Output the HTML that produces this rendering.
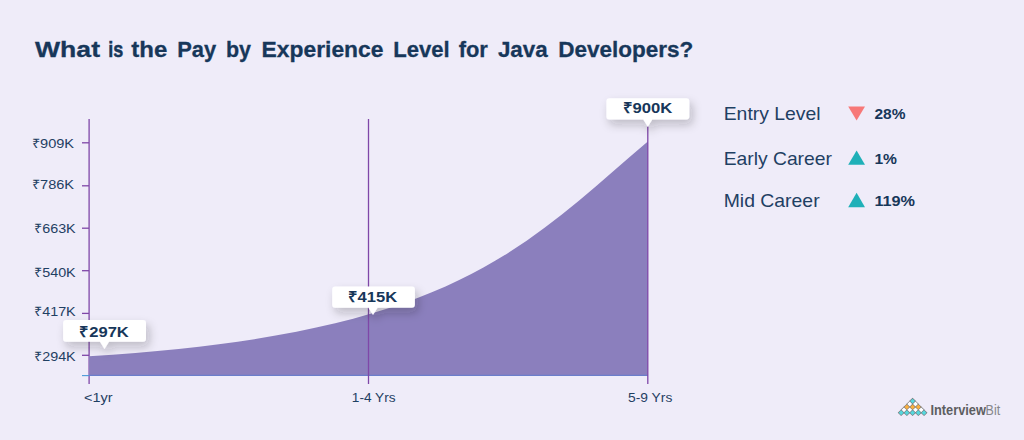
<!DOCTYPE html>
<html lang="en">
<head>
<meta charset="utf-8">
<title>What is the Pay by Experience Level for Java Developers?</title>
<style>
html,body{margin:0;padding:0;background:#efecf9;}
body{width:1024px;height:440px;overflow:hidden;position:relative;font-family:"Liberation Sans",sans-serif;}
svg{position:absolute;left:0;top:0;display:block;}
text{font-family:"Liberation Sans",sans-serif;}
.title{font-weight:bold;font-size:22.5px;fill:#17375a;stroke:#17375a;stroke-width:0.3px;}
.ylab{font-size:12.8px;fill:#1f4063;}
.xlab{font-size:13px;fill:#1f4063;}
.tip{font-weight:bold;font-size:15px;fill:#17375a;}
.leg{font-size:18.5px;fill:#1f4063;}
.pct{font-weight:bold;font-size:14.5px;fill:#17375a;}
</style>
</head>
<body>
<svg width="1024" height="440" viewBox="0 0 1024 440">
<defs>
<filter id="sh" x="-30%" y="-60%" width="160%" height="260%">
<feDropShadow dx="3" dy="5" stdDeviation="5" flood-color="#1a1a2a" flood-opacity="0.24"/>
</filter>
</defs>
<rect x="0" y="0" width="1024" height="440" fill="#efecf9"/>

<!-- title -->
<g class="title">
<text x="35" y="56.6" textLength="65" lengthAdjust="spacingAndGlyphs">What</text>
<text x="108.2" y="56.6" textLength="15" lengthAdjust="spacingAndGlyphs" stroke="#17375a" stroke-width="0.5">is</text>
<text x="131.3" y="56.6" textLength="36" lengthAdjust="spacingAndGlyphs">the</text>
<text x="177.2" y="56.6" textLength="39" lengthAdjust="spacingAndGlyphs">Pay</text>
<text x="226" y="56.6" textLength="25" lengthAdjust="spacingAndGlyphs">by</text>
<text x="261.5" y="56.6" textLength="122" lengthAdjust="spacingAndGlyphs">Experience</text>
<text x="393.2" y="56.6" textLength="56.5" lengthAdjust="spacingAndGlyphs">Level</text>
<text x="458.7" y="56.6" textLength="29.2" lengthAdjust="spacingAndGlyphs">for</text>
<text x="497.9" y="56.6" textLength="49.8" lengthAdjust="spacingAndGlyphs">Java</text>
<text x="558.3" y="56.6" textLength="135" lengthAdjust="spacingAndGlyphs">Developers?</text>
</g>

<!-- y axis (under area) -->
<line x1="89.1" y1="119" x2="89.1" y2="384" stroke="#7f47a8" stroke-width="1.3"/>
<!-- area -->
<path d="M89,356.2 C450.7,334.5 520.5,250.2 647.8,141.5 L647.8,375.5 L89,375.5 Z" fill="#8b7fbd"/>
<!-- x axis line (blue) -->
<line x1="82" y1="375.6" x2="89" y2="375.6" stroke="#4a9ad8" stroke-width="1.1"/>
<line x1="89" y1="375.4" x2="648" y2="375.4" stroke="#6b7ecb" stroke-width="1.1"/>
<!-- vertical lines -->
<line x1="368.5" y1="119" x2="368.5" y2="384" stroke="#7f47a8" stroke-width="1.3"/>
<line x1="647.8" y1="126.5" x2="647.8" y2="384" stroke="#7f47a8" stroke-width="1.3"/>
<!-- ticks -->
<g stroke="#7f47a8" stroke-width="1.3">
<line x1="82" y1="142.8" x2="89" y2="142.8"/>
<line x1="82" y1="185.8" x2="89" y2="185.8"/>
<line x1="82" y1="228.2" x2="89" y2="228.2"/>
<line x1="82" y1="270.7" x2="89" y2="270.7"/>
<line x1="82" y1="313.4" x2="89" y2="313.4"/>
<line x1="82" y1="355.3" x2="89" y2="355.3"/>
</g>

<!-- y labels -->
<g class="ylab">
<text x="32.1" y="148.3" textLength="42" lengthAdjust="spacingAndGlyphs">₹909K</text>
<text x="32.1" y="188.7" textLength="42" lengthAdjust="spacingAndGlyphs">₹786K</text>
<text x="34.3" y="232.9" textLength="41.4" lengthAdjust="spacingAndGlyphs">₹663K</text>
<text x="34.3" y="277" textLength="41.4" lengthAdjust="spacingAndGlyphs">₹540K</text>
<text x="34.3" y="316.3" textLength="41.4" lengthAdjust="spacingAndGlyphs">₹417K</text>
<text x="34.3" y="360.5" textLength="41.4" lengthAdjust="spacingAndGlyphs">₹294K</text>
</g>

<!-- x labels -->
<g class="xlab">
<text x="84" y="401.9" textLength="28.5" lengthAdjust="spacingAndGlyphs">&lt;1yr</text>
<text x="351.8" y="401.9" textLength="43.8" lengthAdjust="spacingAndGlyphs">1-4 Yrs</text>
<text x="628.1" y="401.9" textLength="44.2" lengthAdjust="spacingAndGlyphs">5-9 Yrs</text>
</g>

<!-- tooltips -->
<g filter="url(#sh)">
<path d="M66.1,320 H143 a3,3 0 0 1 3,3 V338.8 a3,3 0 0 1 -3,3 H109 L104.5,349 L100,341.8 H66.1 a3,3 0 0 1 -3,-3 V323 a3,3 0 0 1 3,-3 Z" fill="#fff"/>
</g>
<g filter="url(#sh)">
<path d="M335.2,286.4 H411.9 a3,3 0 0 1 3,3 V304.8 a3,3 0 0 1 -3,3 H377.5 L373,315 L368.5,307.8 H335.2 a3,3 0 0 1 -3,-3 V289.4 a3,3 0 0 1 3,-3 Z" fill="#fff"/>
</g>
<g filter="url(#sh)">
<path d="M609.4,98.2 H686.3 a3,3 0 0 1 3,3 V116.5 a3,3 0 0 1 -3,3 H652.3 L647.8,126.8 L643.3,119.5 H609.4 a3,3 0 0 1 -3,-3 V101.2 a3,3 0 0 1 3,-3 Z" fill="#fff"/>
</g>
<g class="tip">
<text x="79.3" y="336.5" textLength="49.5" lengthAdjust="spacingAndGlyphs">₹297K</text>
<text x="347.6" y="302.3" textLength="49.5" lengthAdjust="spacingAndGlyphs">₹415K</text>
<text x="622.6" y="112.8" textLength="49.8" lengthAdjust="spacingAndGlyphs">₹900K</text>
</g>

<!-- legend -->
<g class="leg">
<text x="723.7" y="120.4" textLength="96.9" lengthAdjust="spacingAndGlyphs">Entry Level</text>
<text x="723.7" y="164.7" textLength="108.2" lengthAdjust="spacingAndGlyphs">Early Career</text>
<text x="723.7" y="207.2" textLength="95.9" lengthAdjust="spacingAndGlyphs">Mid Career</text>
</g>
<polygon points="848.2,106.5 865,106.5 856.6,120.6" fill="#f77878"/>
<polygon points="848.2,164.7 865,164.7 856.6,150.5" fill="#1fb0b8"/>
<polygon points="848.2,207.2 865,207.2 856.6,192.8" fill="#1fb0b8"/>
<g class="pct">
<text x="874.5" y="119.2" textLength="31" lengthAdjust="spacingAndGlyphs">28%</text>
<text x="874.4" y="163.5" textLength="22.6" lengthAdjust="spacingAndGlyphs">1%</text>
<text x="874.4" y="206" textLength="40.7" lengthAdjust="spacingAndGlyphs">119%</text>
</g>

<!-- logo -->
<g id="logo">
<polygon points="912.60,397.80 916.00,401.10 912.60,404.40 909.20,401.10" fill="#77787b"/>
<polygon points="909.74,400.72 913.13,404.02 909.74,407.32 906.34,404.02" fill="#77787b"/>
<polygon points="915.47,400.72 918.87,404.02 915.47,407.32 912.07,404.02" fill="#77787b"/>
<polygon points="906.87,403.64 910.27,406.94 906.87,410.24 903.47,406.94" fill="#77787b"/>
<polygon points="912.60,403.64 916.00,406.94 912.60,410.24 909.20,406.94" fill="#77787b"/>
<polygon points="918.33,403.64 921.73,406.94 918.33,410.24 914.93,406.94" fill="#77787b"/>
<polygon points="904.00,406.56 907.40,409.86 904.00,413.16 900.61,409.86" fill="#77787b"/>
<polygon points="909.74,406.56 913.13,409.86 909.74,413.16 906.34,409.86" fill="#77787b"/>
<polygon points="915.47,406.56 918.87,409.86 915.47,413.16 912.07,409.86" fill="#77787b"/>
<polygon points="921.20,406.56 924.60,409.86 921.20,413.16 917.80,409.86" fill="#77787b"/>
<polygon points="901.14,409.48 904.54,412.78 901.14,416.08 897.74,412.78" fill="#77787b"/>
<polygon points="906.87,409.48 910.27,412.78 906.87,416.08 903.47,412.78" fill="#77787b"/>
<polygon points="912.60,409.48 916.00,412.78 912.60,416.08 909.20,412.78" fill="#77787b"/>
<polygon points="918.33,409.48 921.73,412.78 918.33,416.08 914.93,412.78" fill="#77787b"/>
<polygon points="924.06,409.48 927.46,412.78 924.06,416.08 920.66,412.78" fill="#77787b"/>
<polygon points="912.60,398.65 915.05,401.10 912.60,403.55 910.15,401.10" fill="#55d8de"/>
<polygon points="909.74,401.57 912.19,404.02 909.74,406.47 907.28,404.02" fill="#ffffff"/>
<polygon points="915.47,401.57 917.92,404.02 915.47,406.47 913.01,404.02" fill="#ffffff"/>
<polygon points="906.87,404.49 909.32,406.94 906.87,409.39 904.42,406.94" fill="#fbb040"/>
<polygon points="912.60,404.49 915.05,406.94 912.60,409.39 910.15,406.94" fill="#fbb040"/>
<polygon points="918.33,404.49 920.78,406.94 918.33,409.39 915.88,406.94" fill="#fbb040"/>
<polygon points="904.00,407.41 906.46,409.86 904.00,412.31 901.55,409.86" fill="#ffffff"/>
<polygon points="909.74,407.41 912.19,409.86 909.74,412.31 907.28,409.86" fill="#ffffff"/>
<polygon points="915.47,407.41 917.92,409.86 915.47,412.31 913.01,409.86" fill="#ffffff"/>
<polygon points="921.20,407.41 923.65,409.86 921.20,412.31 918.75,409.86" fill="#ffffff"/>
<polygon points="901.14,410.33 903.59,412.78 901.14,415.23 898.69,412.78" fill="#55d8de"/>
<polygon points="906.87,410.33 909.32,412.78 906.87,415.23 904.42,412.78" fill="#55d8de"/>
<polygon points="912.60,410.33 915.05,412.78 912.60,415.23 910.15,412.78" fill="#55d8de"/>
<polygon points="918.33,410.33 920.78,412.78 918.33,415.23 915.88,412.78" fill="#55d8de"/>
<polygon points="924.06,410.33 926.51,412.78 924.06,415.23 921.61,412.78" fill="#55d8de"/>
</g>
<text x="930.4" y="415.4" font-size="14" font-weight="bold" fill="#5d5e61" textLength="55.5" lengthAdjust="spacingAndGlyphs">Interview</text>
<text x="985.6" y="415.4" font-size="14" fill="#85868a" textLength="14.5" lengthAdjust="spacingAndGlyphs">Bit</text>
</svg>
</body>
</html>
